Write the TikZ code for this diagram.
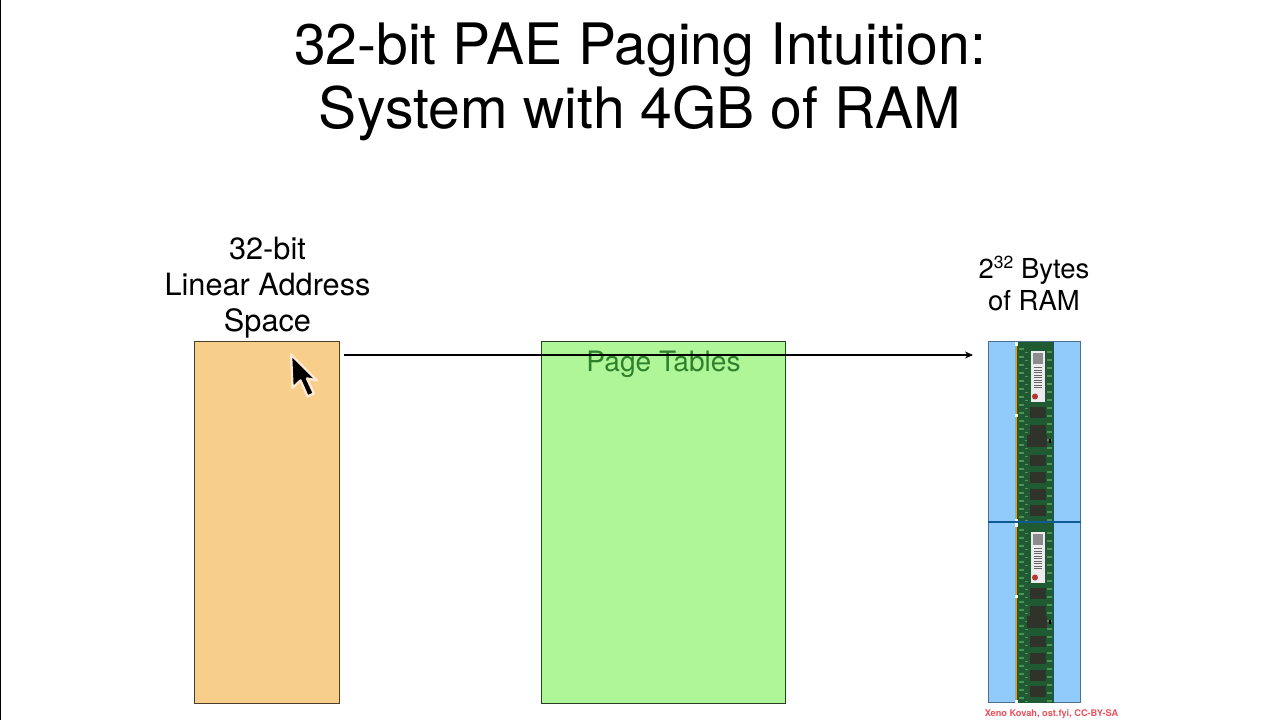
\documentclass[tikz,border=0pt]{standalone}
\usepackage{fontspec}
\setmainfont{TeX Gyre Heros}
\usetikzlibrary{arrows.meta}
\definecolor{orangebox}{HTML}{F8CE8B}
\definecolor{greenbox}{HTML}{AEF698}
\definecolor{bluebox}{HTML}{90CBFB}
\definecolor{pcb}{HTML}{1F5A32}
\definecolor{gold}{HTML}{C8A63C}
\definecolor{chip}{HTML}{2F332A}
\definecolor{tablestext}{HTML}{2F7F2C}
\definecolor{creditred}{HTML}{E8525C}
\definecolor{divider}{HTML}{0F5A94}
\tikzset{
  px/.style={x=1pt,y=-1pt},
  region/.style={draw=#1,line width=1pt,inner sep=0pt},
  titletext/.style={font=\fontsize{57.1}{64}\selectfont,align=center,inner sep=0pt,text=black},
  labeltext/.style={font=\fontsize{30.7}{36}\selectfont,align=center,inner sep=0pt,text=black},
  ramlabel/.style={font=\fontsize{27.5}{31.5}\selectfont,align=center,inner sep=0pt,text=black},
}
\newcommand{\ramstick}[1]{%
\begin{scope}[shift={(0,#1)}]
  \fill[gold] (1015,2) rectangle (1017.5,179);
  \fill[pcb] (1017,0) rectangle (1054,180);
  \foreach \yy in {6,14,22,30,38,46,54,62,70,78,86,94,102,110,118,126,134,142,150,158,166,174}{
    \fill[white!60!green,opacity=.35] (1019,\yy) rectangle (1024,\yy+1.6);
    \fill[white!60!green,opacity=.35] (1025,\yy+4) rectangle (1028,\yy+5.4);
    \fill[white!60!green,opacity=.35] (1047,\yy+3) rectangle (1052,\yy+4.6);
  }
  \fill[white] (1014.5,0) rectangle (1018,3.5);
  \fill[white] (1014.5,72) rectangle (1018,75);
  \fill[white] (1014.5,177) rectangle (1018,180);
  \fill[white!92!black] (1031,9) rectangle (1045,60);
  \fill[black!45] (1033,11) rectangle (1043,22);
  \foreach \yy in {25,27.5,30,32.5,35,37.5,40,42.5,45}{
    \fill[black!60] (1034,\yy) rectangle (1042,\yy+1.4);
  }
  \fill[red!65!black!80] (1035,54.5) circle (3);
  \foreach \yy in {65,83,113,130,147,163}{
    \fill[chip] (1030,\yy) rectangle (1046,\yy+11);
  }
  \fill[chip] (1027,93) rectangle (1047,105);
  \fill[black] (1049,97) rectangle (1051,101);
\end{scope}}
\begin{document}
\begin{tikzpicture}[px]
\useasboundingbox (0,0) rectangle (1280,720);
\fill[white] (0,0) rectangle (1280,720);
\fill[black] (0,0) rectangle (1,720);
\node[titletext] (title) at (640,82) {32-bit PAE Paging Intuition:\\System with 4GB of RAM};
\node[labeltext] (lablinear) at (267.5,288) {32-bit\\Linear Address\\Space};
\node[ramlabel] (labram) at (1034,283.5) {2\raisebox{.36em}{\fontsize{17.5}{17.5}\selectfont 32} Bytes\\of RAM};
\node[region=black!70!orangebox,fill=orangebox,minimum width=145pt,minimum height=362pt] (linear) at (266.5,522) {};
\node[region=black!75!greenbox,fill=greenbox,minimum width=244pt,minimum height=362pt] (tables) at (663.5,522) {};
\node[region=black!45!bluebox,fill=bluebox,minimum width=92pt,minimum height=361pt] (ram) at (1034.5,522) {};
\ramstick{342}
\ramstick{523}
\draw[divider,line width=1.6pt] (988,522) -- (1081,522);
\node[font=\fontsize{28.1}{32}\selectfont,text=tablestext,inner sep=0pt] (tablesname) at (663.5,364) {Page Tables};
\coordinate (linearout) at (344,355);
\coordinate (ramin) at (973,355);
\draw[black,line width=1.2pt,-{Stealth[length=8pt,width=7pt]}] (linearout) -- (ramin);
\draw[line width=2.4pt,draw=white!82!orange,fill=black,line join=round]
  (291,354.5) -- (292.5,388) -- (300.5,380.5) -- (307.5,396.5) -- (314,393.5) -- (307,378.5) -- (317,380.5) -- cycle;
\node[font=\bfseries\fontsize{9.2}{12}\selectfont,text=creditred,inner sep=0pt] (credit) at (1051.5,714.5) {Xeno Kovah, ost.fyi, CC-BY-SA};
\end{tikzpicture}
\end{document}
